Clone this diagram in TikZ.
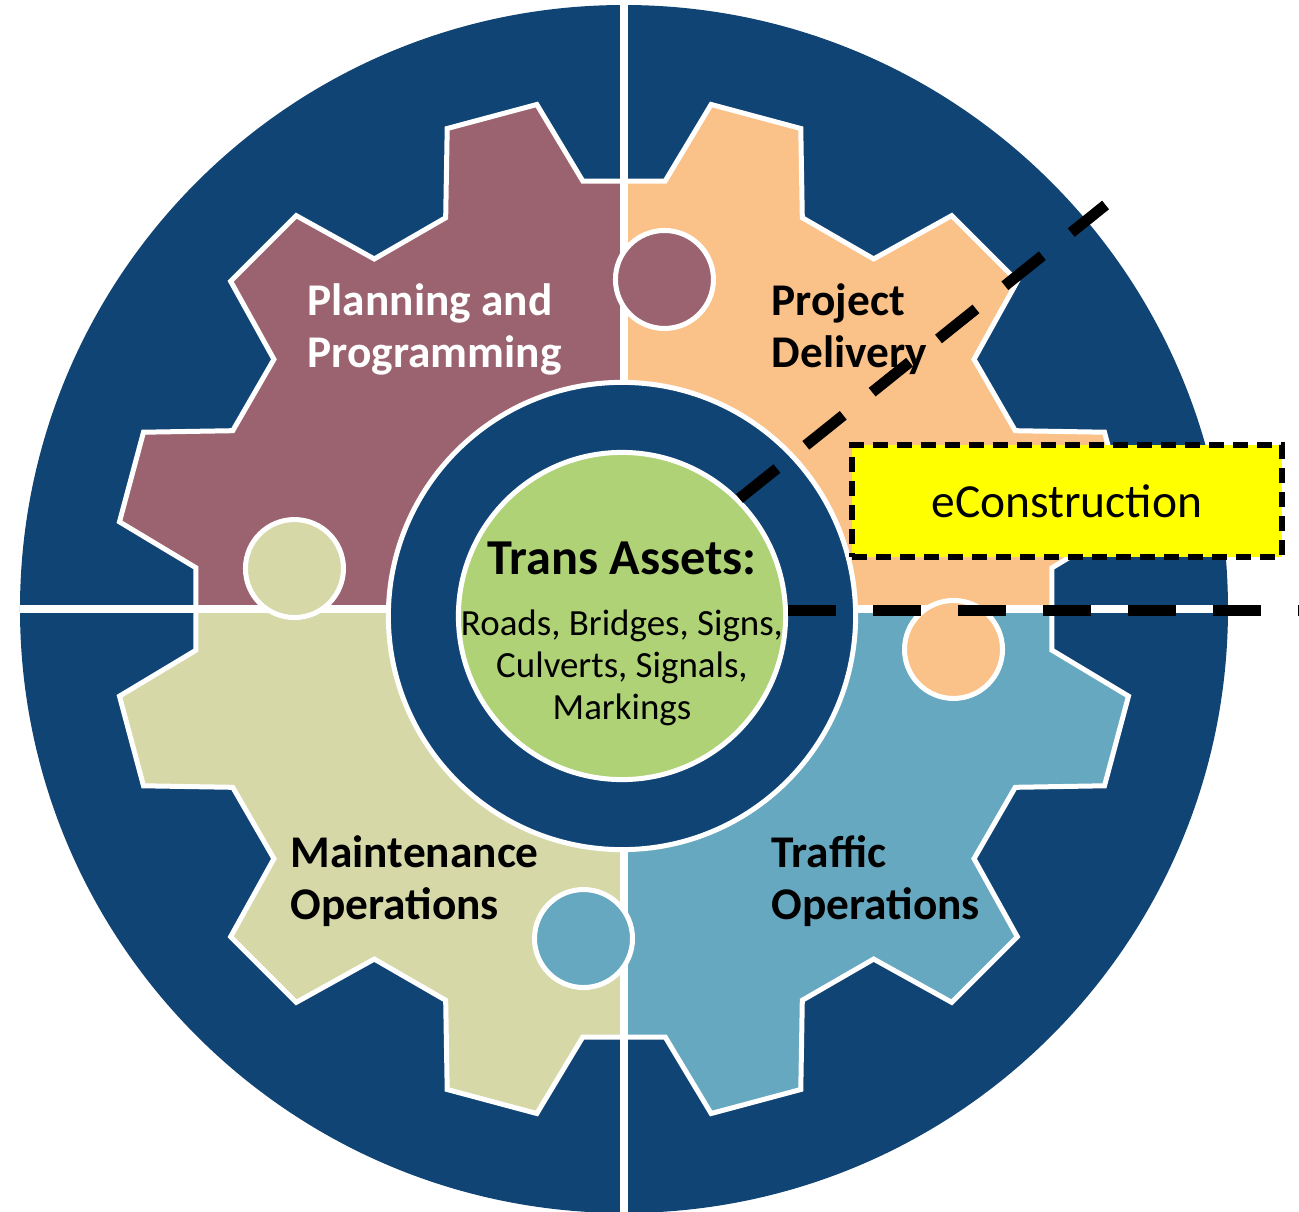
\documentclass[tikz,border=0pt]{standalone}
\usepackage{fontspec}
\setmainfont{Carlito}

\definecolor{navy}{RGB}{16,68,116}
\definecolor{planning}{RGB}{155,99,112}
\definecolor{delivery}{RGB}{250,194,137}
\definecolor{maint}{RGB}{214,216,168}
\definecolor{traffic}{RGB}{102,168,192}
\definecolor{assetgreen}{RGB}{174,210,117}
\definecolor{econyellow}{RGB}{255,255,0}

% one big gear, 12 teeth, cut into four quadrants
\newcommand{\gearpath}{(-5.5:430) \foreach \a in {15,45,...,345} {
    -- ({\a-9.5}:430) -- ({\a-5.2}:512) -- ({\a+5.2}:512) -- ({\a+9.5}:430)} -- cycle}

\begin{document}
\begin{tikzpicture}[x=0.01cm,y=0.01cm,
    gearlbl/.style={inner sep=0pt,anchor=base west,font=\fontsize{12.9}{15}\selectfont\bfseries},
    divider/.style={white,line width=0.08cm},
    knob/.style={draw=white,line width=0.05cm},
    hub/.style={circle,draw=white,line width=0.05cm,inner sep=0pt},
    cut/.style={black,line width=0.11cm,dash pattern=on 0.48cm off 0.37cm}]

    \useasboundingbox (-624,-602) rectangle (675,609);
    \fill[navy] (0,0) circle[radius=604];

    \foreach \col/\sx/\sy in {delivery/1/1,planning/-1/1,maint/-1/-1,traffic/1/-1} {
      \begin{scope}
        \clip (0,0) rectangle (600*\sx,600*\sy);
        \fill[\col] \gearpath;
      \end{scope}
    }
    \draw[white,line width=0.05cm] \gearpath;

    \draw[divider] (0,-604) -- (0,604);
    \draw[divider] (-604,0) -- (604,0);

    % tabs reaching into the next quadrant
    \path[knob,fill=planning] (83:332) circle[radius=49];
    \path[knob,fill=delivery] (-7:332) circle[radius=49];
    \path[knob,fill=traffic] (263:332) circle[radius=49];
    \path[knob,fill=maint] (173:332) circle[radius=49];

    \node[hub,fill=navy,minimum size=4.67cm] (ring) at (-2,-7) {};
    \node[hub,fill=assetgreen,minimum size=3.27cm] (assets) at (-2,-7) {};

    \node[inner sep=0pt,anchor=base,font=\fontsize{14.3}{15}\selectfont\bfseries] (title) at (-2,35) {Trans Assets:};
    \node[inner sep=0pt,anchor=base,font=\fontsize{10.5}{12}\selectfont] (list) at (-2,-26)
      {\begin{tabular}[t]{@{}c@{}}Roads, Bridges, Signs,\\Culverts, Signals,\\Markings\end{tabular}};

    \node[gearlbl,white] (plan) at (-317,294) {\begin{tabular}[t]{@{}l@{}}Planning and\\Programming\end{tabular}};
    \node[gearlbl] (deliv) at (147,294) {\begin{tabular}[t]{@{}l@{}}Project\\Delivery\end{tabular}};
    \node[gearlbl] (maintops) at (-334,-258) {\begin{tabular}[t]{@{}l@{}}Maintenance\\Operations\end{tabular}};
    \node[gearlbl] (trafops) at (147,-258) {\begin{tabular}[t]{@{}l@{}}Traffic\\Operations\end{tabular}};

    \node[draw=black,fill=econyellow,line width=0.06cm,dash pattern=on 0.15cm off 0.09cm,
      minimum width=4.3cm,minimum height=1.12cm,inner sep=0pt,
      font=\fontsize{13.5}{15}\selectfont] (econ) at (443,108) {eConstruction};

    \coordinate (cutend) at (481.6,404);
    \coordinate (edge) at (675,0);
    \draw[cut] (assets.45) -- (cutend);
    \draw[cut] (assets.2) -- (assets.2 -| edge);
\end{tikzpicture}
\end{document}
